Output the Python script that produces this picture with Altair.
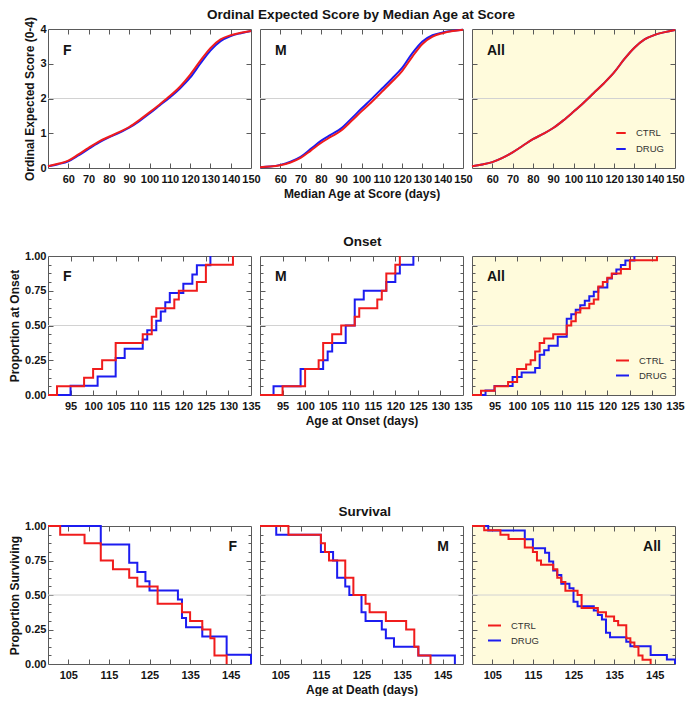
import altair as alt
import pandas as pd

FONT = "Liberation Sans"
TXT = "#141414"
RED = "#f01c1c"
BLUE = "#1c1cf0"
BG = "#fffbdc"
FRAME = "#5a5a5a"
GROUPS = ["CTRL", "DRUG"]
COLORS = [RED, BLUE]

# ---------------- Ordinal expected score (top row) ----------------
score_age = [50, 55, 60, 65, 70, 75, 80, 85, 90, 95, 100, 105, 110, 115, 120, 125, 130, 135, 140, 145, 150]
score_f_ctrl = [0.05, 0.12, 0.21, 0.39, 0.58, 0.76, 0.90, 1.03, 1.18, 1.38, 1.60, 1.83, 2.07, 2.34, 2.68, 3.08, 3.45, 3.70, 3.82, 3.89, 3.94]
score_f_drug = [0.05, 0.11, 0.19, 0.36, 0.55, 0.73, 0.88, 1.01, 1.16, 1.35, 1.57, 1.80, 2.03, 2.29, 2.60, 3.00, 3.38, 3.65, 3.80, 3.88, 3.94]
score_m_ctrl = [0.02, 0.04, 0.08, 0.16, 0.29, 0.50, 0.72, 0.90, 1.08, 1.35, 1.63, 1.90, 2.19, 2.48, 2.79, 3.20, 3.57, 3.78, 3.88, 3.94, 3.98]
score_m_drug = [0.02, 0.04, 0.09, 0.18, 0.32, 0.55, 0.78, 0.96, 1.14, 1.42, 1.71, 1.99, 2.28, 2.57, 2.88, 3.30, 3.64, 3.82, 3.90, 3.95, 3.98]
score_all_ctrl = [0.05, 0.10, 0.17, 0.29, 0.45, 0.64, 0.83, 0.98, 1.15, 1.37, 1.62, 1.88, 2.16, 2.44, 2.75, 3.13, 3.46, 3.70, 3.83, 3.91, 3.97]
score_all_drug = [0.05, 0.10, 0.17, 0.29, 0.45, 0.64, 0.83, 0.98, 1.15, 1.37, 1.62, 1.88, 2.16, 2.44, 2.75, 3.13, 3.46, 3.70, 3.83, 3.91, 3.97]

# ---------------- Onset ages (days) ----------------
onset_f_ctrl = [92, 98, 100, 102, 105, 105, 111, 113, 113, 114, 118, 119, 123, 125, 125, 131]
onset_f_drug = [95, 101, 105, 105, 107, 111, 112, 114, 115, 116, 117, 120, 122, 123, 126]
onset_m_ctrl = [95, 100, 100, 103, 104, 104, 106, 108, 111, 112, 116, 117, 118, 118, 120, 121]
onset_m_drug = [93, 99, 99, 104, 105, 106, 109, 109, 111, 111, 111, 113, 118, 120, 121, 124]

# ---------------- Death ages (days) ----------------
death_f_ctrl = [103, 109, 113, 113, 116, 120, 122, 127, 127, 133, 135, 138, 140, 141, 141, 144]
death_f_drug = [113, 113, 120, 120, 122, 124, 125, 132, 133, 133, 134, 138, 144, 144, 150]
death_m_ctrl = [107, 115, 116, 117, 121, 121, 123, 123, 126, 127, 131, 136, 138, 138, 139, 142]
death_m_drug = [104, 115, 115, 118, 119, 119, 121, 122, 125, 125, 126, 130, 131, 133, 139, 148]

# axis values
top_x_labels = [60, 70, 80, 90, 100, 110, 120, 130, 140, 150]
top_x_ticks = [60, 70, 80, 90, 100, 110, 120, 130, 140]
top_y_labels = [0, 1, 2, 3, 4]
top_y_ticks = [1, 2, 3]
on_x_labels = [95, 100, 105, 110, 115, 120, 125, 130, 135]
on_x_ticks = [95, 100, 105, 110, 115, 120, 125, 130]
sv_x_labels = [105, 115, 125, 135, 145]
sv_x_ticks = [105, 110, 115, 120, 125, 130, 135, 140, 145]
prop_labels = [0, 0.25, 0.5, 0.75, 1.0]
prop_ticks = [0.25, 0.5, 0.75]
prop_minor = [k / 16 for k in range(1, 16) if k % 4]


def score_frame(ctrl, drug):
    rows = [(a, v, "CTRL") for a, v in zip(score_age, ctrl)]
    rows += [(a, v, "DRUG") for a, v in zip(score_age, drug)]
    return pd.DataFrame(rows, columns=["x", "y", "group"])


def step_frame(ctrl, drug, start, rising):
    rows = []
    for g, ev in (("CTRL", ctrl), ("DRUG", drug)):
        n = len(ev)
        rows.append((start, 0.0 if rising else 1.0, g))
        for t in sorted(set(ev)):
            k = sum(1 for e in ev if e <= t)
            rows.append((t, k / n if rising else 1 - k / n, g))
    return pd.DataFrame(rows, columns=["x", "y", "group"])


def tick_axis(orient, offset, values, size=5):
    return alt.Axis(orient=orient, offset=offset, values=values, labels=False,
                    domain=False, grid=False, ticks=True, tickSize=size,
                    tickColor=FRAME, tickWidth=1, title=None, minExtent=0)


def panel(df, interp, xdom, ydom, W, H, xlab, xticks, ylab, yticks, yminor, yfmt,
          ytitle, xtitle, label, label_right, bg, legend, ref):
    xs = alt.Scale(domain=xdom, nice=False, zero=False)
    ys = alt.Scale(domain=ydom, nice=False, zero=False)
    dummy = pd.DataFrame({"x": [xdom[0]], "y": [ydom[0]]})
    layers = []
    layers.append(alt.Chart(pd.DataFrame({"v": [ref]})).mark_rule(color="#d2d2d2", strokeWidth=1)
                  .encode(y=alt.Y("v:Q", scale=ys, axis=None)))
    xa = alt.Axis(orient="bottom", values=xlab, ticks=False, domain=False, grid=False,
                  labelPadding=5, labelFlush=False, labelOverlap=False, minExtent=0,
                  title=xtitle, titlePadding=4)
    if ytitle is not None:
        ya = alt.Axis(orient="left", values=ylab, format=yfmt, ticks=False, domain=False, grid=False,
                      labelPadding=2, labelFlush=False, labelOverlap=False, minExtent=0,
                      title=ytitle, titlePadding=3)
    else:
        ya = None
    pt = dict(opacity=0, size=1)
    layers.append(alt.Chart(dummy).mark_point(**pt).encode(
        x=alt.X("x:Q", scale=xs, axis=xa), y=alt.Y("y:Q", scale=ys, axis=ya)))
    layers.append(alt.Chart(dummy).mark_point(**pt).encode(
        x=alt.X("x:Q", scale=xs, axis=tick_axis("bottom", -H, xticks)),
        y=alt.Y("y:Q", scale=ys, axis=tick_axis("right", -W, yticks))))
    layers.append(alt.Chart(dummy).mark_point(**pt).encode(
        x=alt.X("x:Q", scale=xs, axis=tick_axis("top", -H, xticks)),
        y=alt.Y("y:Q", scale=ys, axis=tick_axis("left", -W, yticks))))
    if yminor:
        layers.append(alt.Chart(dummy).mark_point(**pt).encode(
            x=alt.X("x:Q", scale=xs, axis=None),
            y=alt.Y("y:Q", scale=ys, axis=tick_axis("right", -W, yminor, 3))))
        layers.append(alt.Chart(dummy).mark_point(**pt).encode(
            x=alt.X("x:Q", scale=xs, axis=None),
            y=alt.Y("y:Q", scale=ys, axis=tick_axis("left", -W, yminor, 3))))
    cscale = alt.Scale(domain=GROUPS, range=COLORS)
    for g in ["DRUG", "CTRL"]:
        sub = df[df.group == g]
        layers.append(alt.Chart(sub).mark_line(interpolate=interp, strokeWidth=2).encode(
            x=alt.X("x:Q", scale=xs, axis=None),
            y=alt.Y("y:Q", scale=ys, axis=None),
            color=alt.Color("group:N", scale=cscale, legend=legend)))
    if label_right:
        txt = alt.Chart(pd.DataFrame({"t": [label]})).mark_text(
            font=FONT, fontSize=14, fontWeight="bold", color=TXT, align="right", baseline="alphabetic"
        ).encode(x=alt.value(W - 14), y=alt.value(25), text="t:N")
    else:
        txt = alt.Chart(pd.DataFrame({"t": [label]})).mark_text(
            font=FONT, fontSize=14, fontWeight="bold", color=TXT, align="left", baseline="alphabetic"
        ).encode(x=alt.value(15), y=alt.value(26 if ydom[1] == 4 else 25), text="t:N")
    layers.append(txt)
    ch = alt.layer(*layers).resolve_axis(x="independent", y="independent").properties(width=W, height=H)
    if bg:
        ch = ch.properties(view=alt.ViewBackground(fill=BG, stroke=FRAME, strokeWidth=1))
    return ch


def make_legend(x, y, size, rowpad):
    return alt.Legend(orient="none", legendX=x, legendY=y, title=None, symbolType="stroke",
                      symbolSize=size, symbolStrokeWidth=2, labelFont=FONT, labelFontSize=9.5,
                      labelColor="#333333", labelFontWeight="normal", labelOffset=9,
                      rowPadding=rowpad, padding=0)


W1, H1 = 203, 139
W2, H2 = 203, 139
W3, H3 = 203, 138

# top row
top_dom = [50, 150]
r1 = [
    panel(score_frame(score_f_ctrl, score_f_drug), "monotone", top_dom, [0, 4], W1, H1,
          top_x_labels, top_x_ticks, top_y_labels, top_y_ticks, None, "d",
          "Ordinal Expected Score (0-4)", None, "F", False, False, None, 2),
    panel(score_frame(score_m_ctrl, score_m_drug), "monotone", top_dom, [0, 4], W1, H1,
          top_x_labels, top_x_ticks, top_y_labels, top_y_ticks, None, "d",
          None, "Median Age at Score (days)", "M", False, False, None, 2),
    panel(score_frame(score_all_ctrl, score_all_drug), "monotone", top_dom, [0, 4], W1, H1,
          top_x_labels, top_x_ticks, top_y_labels, top_y_ticks, None, "d",
          None, None, "All", False, True, make_legend(W1 - 60, H1 - 41, 90, 5), 2),
]
row1 = alt.hconcat(*r1, spacing=9, bounds="flush", title=alt.TitleParams(
    "Ordinal Expected Score by Median Age at Score", anchor="middle", dx=7, offset=-6)
).resolve_scale(color="independent")

on_dom = [90, 135]
r2 = [
    panel(step_frame(onset_f_ctrl, onset_f_drug, 90, True), "step-after", on_dom, [0, 1], W2, H2,
          on_x_labels, on_x_ticks, prop_labels, prop_ticks, prop_minor, ".2f",
          "Proportion at Onset", None, "F", False, False, None, 0.5),
    panel(step_frame(onset_m_ctrl, onset_m_drug, 90, True), "step-after", on_dom, [0, 1], W2, H2,
          on_x_labels, on_x_ticks, prop_labels, prop_ticks, prop_minor, ".2f",
          None, "Age at Onset (days)", "M", False, False, None, 0.5),
    panel(step_frame(onset_f_ctrl + onset_m_ctrl, onset_f_drug + onset_m_drug, 90, True), "step-after",
          on_dom, [0, 1], W2, H2,
          on_x_labels, on_x_ticks, prop_labels, prop_ticks, prop_minor, ".2f",
          None, None, "All", False, True, make_legend(W2 - 60, H2 - 42, 169, 3), 0.5),
]
row2 = alt.hconcat(*r2, spacing=9, bounds="flush",
                   title=alt.TitleParams("Onset", anchor="middle", dx=16, offset=1)
                   ).resolve_scale(color="independent")

sv_dom = [100, 150]
r3 = [
    panel(step_frame(death_f_ctrl, death_f_drug, 100, False), "step-after", sv_dom, [0, 1], W3, H3,
          sv_x_labels, sv_x_ticks, prop_labels, prop_ticks, prop_minor, ".2f",
          "Proportion Surviving", None, "F", True, False, None, 0.5),
    panel(step_frame(death_m_ctrl, death_m_drug, 100, False), "step-after", sv_dom, [0, 1], W3, H3,
          sv_x_labels, sv_x_ticks, prop_labels, prop_ticks, prop_minor, ".2f",
          None, "Age at Death (days)", "M", True, False, None, 0.5),
    panel(step_frame(death_f_ctrl + death_m_ctrl, death_f_drug + death_m_drug, 100, False), "step-after",
          sv_dom, [0, 1], W3, H3,
          sv_x_labels, sv_x_ticks, prop_labels, prop_ticks, prop_minor, ".2f",
          None, None, "All", True, True, make_legend(15, H3 - 46, 169, 3), 0.5),
]
row3 = alt.hconcat(*r3, spacing=9, bounds="flush",
                   title=alt.TitleParams("Survival", anchor="middle", dx=21, offset=1)
                   ).resolve_scale(color="independent")

lower = alt.vconcat(row2, row3, spacing=78).resolve_scale(color="independent")
chart = alt.concat(row1, lower, columns=1, align="none", spacing=35).resolve_scale(
    color="independent"
).properties(
    padding=0, background="white"
).configure(font=FONT).configure_view(stroke=FRAME, strokeWidth=1).configure_axis(
    labelFont=FONT, labelFontSize=11, labelFontWeight="bold", labelColor=TXT,
    titleFont=FONT, titleFontSize=12, titleFontWeight="bold", titleColor=TXT, grid=False,
    minExtent=0
).configure_title(font=FONT, fontSize=13.5, fontWeight="bold", color=TXT)

chart.save("out.html", embed_options={"renderer": "svg", "actions": False})
